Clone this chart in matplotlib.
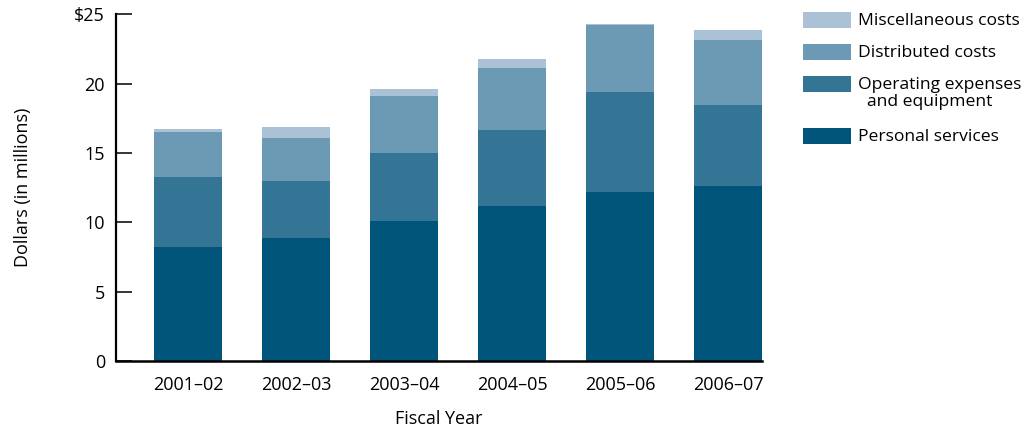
import numpy as np
import matplotlib
matplotlib.use("Agg")
import matplotlib.pyplot as plt
from matplotlib.patches import Rectangle

plt.rcParams["font.family"] = ["Open Sans", "DejaVu Sans"]

# data (millions of dollars)
years = ["2001–02", "2002–03", "2003–04", "2004–05", "2005–06", "2006–07"]
personal = [8.2, 8.9, 10.1, 11.2, 12.2, 12.6]
operating = [5.05, 4.1, 4.9, 5.45, 7.2, 5.85]
distributed = [3.25, 3.1, 4.1, 4.5, 4.85, 4.7]
misc = [0.22, 0.8, 0.5, 0.65, 0.08, 0.7]

labels = ["Personal services", "Operating expenses\n  and equipment",
          "Distributed costs", "Miscellaneous costs"]
colors = ["#01557a", "#347595", "#6c99b4", "#abc2d6"]
series = [personal, operating, distributed, misc]

fig = plt.figure(figsize=(10.27, 4.3), dpi=100)
ax = fig.add_axes([116 / 1027, 1 - 361 / 430, (762 - 116) / 1027, (361 - 14.3) / 430])

x = np.arange(len(years))
bottom = np.zeros(len(years))
for vals, lab, col in zip(series, labels, colors):
    ax.bar(x, vals, width=0.63, bottom=bottom, color=col, label=lab, linewidth=0)
    bottom += np.array(vals)

ax.set_xlim(-0.667, 5.315)
ax.set_ylim(0, 25)
ax.set_yticks([0, 5, 10, 15, 20, 25])
ax.set_yticklabels(["0", "5", "10", "15", "20", "$25"])
ax.set_xticks(x)
ax.set_xticklabels(years)
ax.tick_params(axis="y", direction="in", length=11.5, width=1.1, pad=8, labelsize=13)
ax.tick_params(axis="x", length=0, pad=11, labelsize=13)
for s in ["top", "right"]:
    ax.spines[s].set_visible(False)
ax.spines["left"].set_linewidth(1.6)
ax.spines["bottom"].set_linewidth(1.8)
ax.set_xlabel("Fiscal Year", fontsize=13, labelpad=11)
ax.set_ylabel("Dollars (in millions)", fontsize=13, labelpad=30)

# legend drawn by hand, top item = last series
px = 1 / 430
y = 1 - 12 * px
for lab, col in zip(labels[::-1], colors[::-1]):
    fig.patches.append(Rectangle((803 / 1027, y - 16 * px), 48 / 1027, 16 * px,
                                 transform=fig.transFigure, color=col, linewidth=0))
    fig.text(858 / 1027, y - 1 * px, lab, fontsize=12.6, va="top", ha="left",
             linespacing=1.1)
    y -= (32 + 20 * lab.count("\n")) * px

fig.savefig("out.png", dpi=100)
